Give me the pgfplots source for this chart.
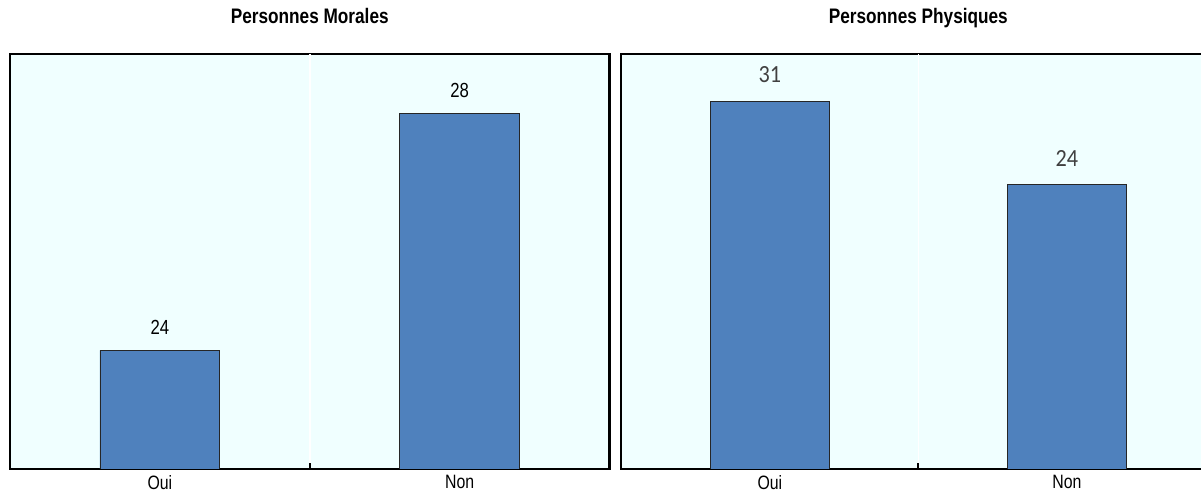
\documentclass[border=0pt]{standalone}
\usepackage{fontspec}
\setmainfont{Liberation Sans}[FakeStretch=0.82]
\newfontfamily\calibfont{Carlito}[FakeStretch=0.9]
\usepackage{pgfplots}
\pgfplotsset{compat=1.18}

\definecolor{barblue}{HTML}{4F81BD}
\definecolor{panelbg}{HTML}{F0FFFF}
\definecolor{labelgray}{HTML}{404040}

\pgfplotsset{
  panel/.style={
    scale only axis,
    height=311.25pt,
    anchor=south west,
    xmin=-0.5, xmax=1.5,
    xtick={0,1}, xticklabels={Oui,Non},
    xtick pos=bottom,
    major tick length=0pt,
    ytick=\empty,
    axis line style={black, line width=1.6pt},
    axis background/.style={fill=panelbg},
    ticklabel style={font=\fontsize{14.5}{16}\selectfont},
    xticklabel style={inner sep=0pt, anchor=north, yshift=-4.5pt},
    extra x ticks={0.5},
    extra x tick labels={},
    extra x tick style={
      grid=major,
      major grid style={white, line width=1.2pt},
      major tick length=4.5pt,
      tick align=inside,
      xtick pos=bottom,
      tick style={black, line width=1.6pt},
    },
    title style={anchor=base, at={(0.5,1)}, yshift=16.5pt,
      font=\bfseries\fontsize{15.75}{18}\selectfont},
    ybar,
    bar width=0.4,
    nodes near coords,
    /pgf/number format/assume math mode=true,
  },
  bars/.style={fill=barblue, draw=black!85, line width=0.6pt},
}

\begin{document}
\begin{tikzpicture}
\useasboundingbox (0,0) rectangle (900.75pt,368.25pt);

% Left panel: legal persons
\begin{axis}[
  panel,
  at={(7.5pt,16.5pt)},
  width=449.6pt,
  ymin=22, ymax=29,
  title={Personnes Morales},
  nodes near coords style={font=\fontsize{15.3}{17}\selectfont,
    /pgf/number format/assume math mode=true,
    inner sep=0pt, anchor=south, yshift=11.5pt},
]
\addplot[bars] coordinates {(0,24) (1,28)};
\end{axis}

% Right panel: natural persons
\begin{axis}[
  panel,
  at={(466pt,16.5pt)},
  width=445.5pt,
  ymin=0, ymax=35,
  title={Personnes Physiques},
  nodes near coords style={font=\calibfont\fontsize{18.5}{20}\selectfont,
    /pgf/number format/assume math mode=true,
    text=labelgray, inner sep=0pt, anchor=south, yshift=13.5pt},
]
\addplot[bars] coordinates {(0,31) (1,24)};
\end{axis}
\end{tikzpicture}
\end{document}
